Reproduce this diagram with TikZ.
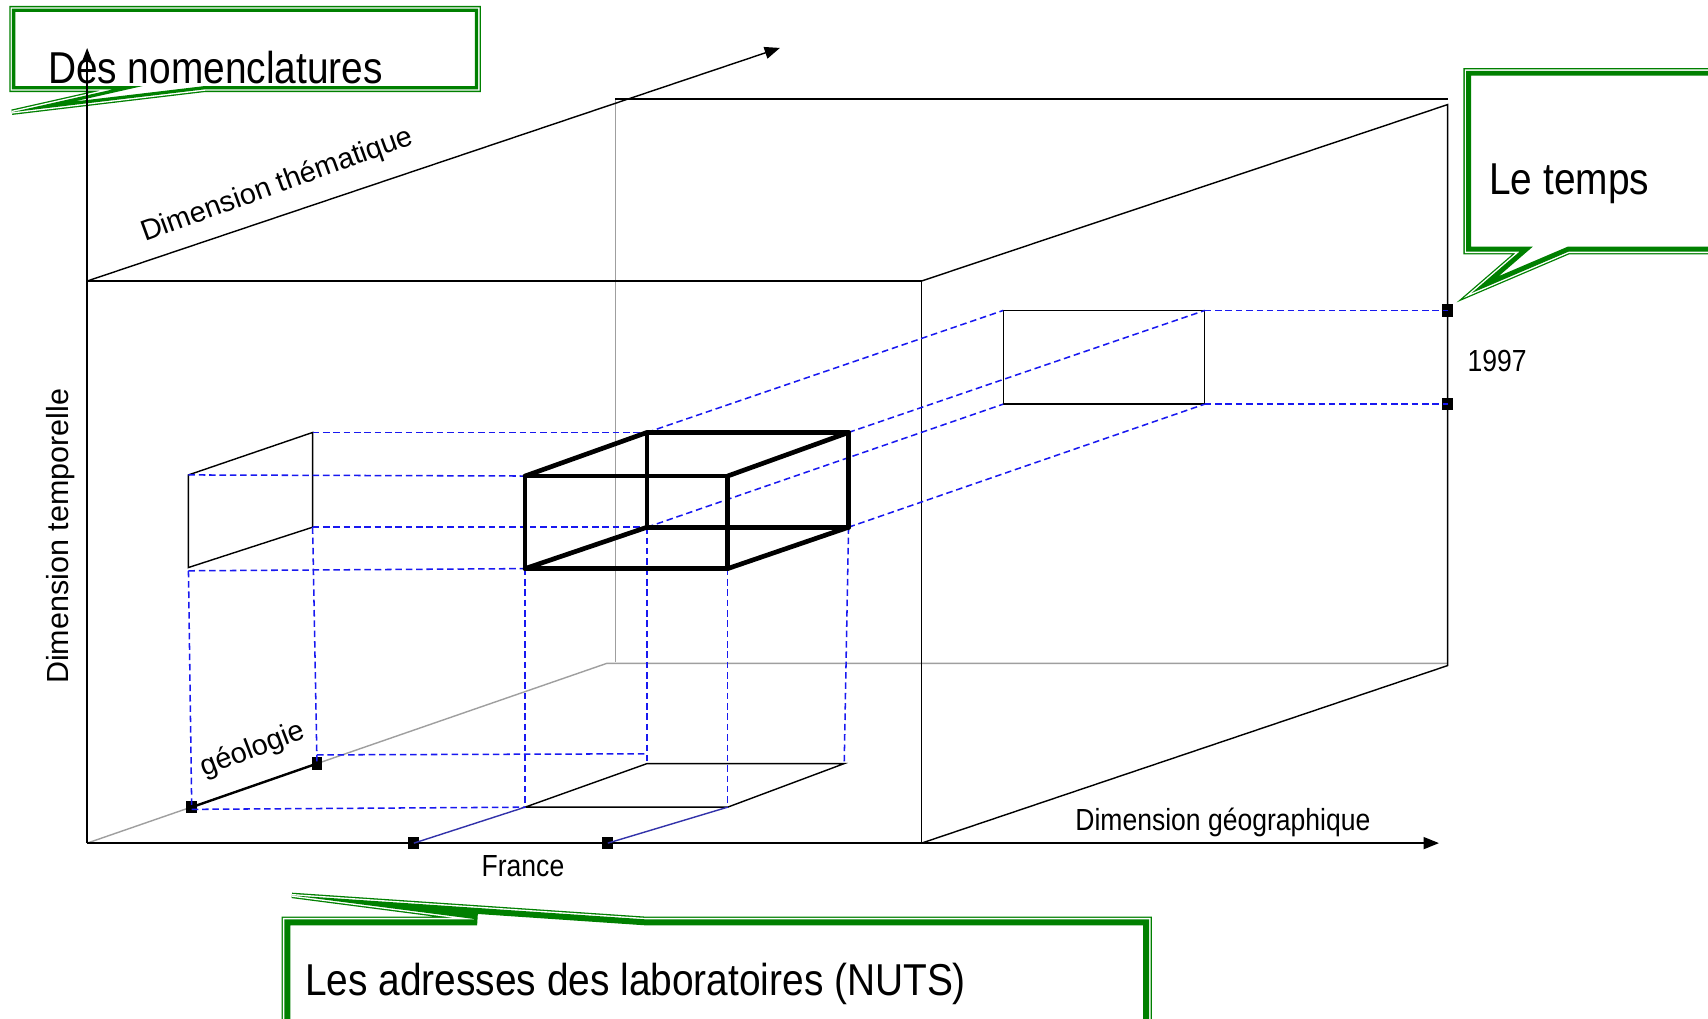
\documentclass[tikz,border=0pt]{standalone}
\usepackage{fontspec}
\setmainfont{Liberation Sans}
\newfontfamily\narrowsans[FakeStretch=0.87]{Liberation Sans}
\usetikzlibrary{arrows.meta}
\definecolor{calloutgreen}{RGB}{0,128,0}
\definecolor{projblue}{RGB}{25,25,240}
\definecolor{floorblue}{RGB}{50,50,170}
\tikzset{
	frame/.style={line width=1.3pt, black},
	backline/.style={line width=1.3pt, gray!75},
	proj/.style={projblue, line width=1.4pt, dash pattern=on 6pt off 3.5pt},
	cubeedge/.style={line width=4.3pt, line join=round, line cap=round},
	thinedge/.style={line width=1.3pt, black},
	marker/.style={fill=black, inner sep=0pt, minimum width=10pt, minimum height=11.5pt},
	bigtext/.style={font=\narrowsans\fontsize{41}{45}\selectfont, inner sep=0pt},
	axistext/.style={font=\narrowsans\fontsize{28}{32}\selectfont, inner sep=0pt},
	slanttext/.style={font=\fontsize{26.5}{30}\selectfont, inner sep=0pt},
	axisarrow/.style={-{Triangle[length=14pt,width=11pt]}, line width=1.3pt},
}
% callout: path, width of the inner green band
\newcommand{\callout}[2]{%
	\draw[calloutgreen, line width=5pt] #1;
	\draw[white, fill=white, line width=2.6pt] #1;
	\begin{scope}\clip #1; \draw[calloutgreen, line width=#2] #1; \end{scope}}
\begin{document}
\begin{tikzpicture}[x=1pt, y=-1pt]
	\useasboundingbox (0,0) rectangle (1568,935);

	% callouts
	\callout{(11,8) -- (439,8) -- (439,82) -- (188,82) -- (11,103) -- (104,82) -- (11,82) -- cycle}{6pt}
	\callout{(1346,65) -- (1585,65) -- (1585,231) -- (1440,231) -- (1351,269) -- (1395,231) -- (1346,231) -- cycle}{9pt}
	\callout{(261,844) -- (438,844) -- (268,822) -- (593,844) -- (1055,844) -- (1055,955) -- (261,955) -- cycle}{11pt}
	\node[bigtext, anchor=base west](nomText) at (44,77){Des nomenclatures};
	\node[bigtext, anchor=base west](tempsText) at (1367,179){Le temps};
	\node[bigtext, anchor=base west](nutsText) at (280,914){Les adresses des laboratoires (NUTS)};

	% main box
	\coordinate (origin) at (80,774);
	\coordinate (frontTL) at (80,258);
	\coordinate (frontTR) at (846,258);
	\coordinate (frontBR) at (846,774);
	\coordinate (yTip) at (80,44);
	\coordinate (xTip) at (1321,774);
	\coordinate (zTip) at (716,44);
	\coordinate (backTL) at (565,91);
	\coordinate (backTopR) at (1329,91);
	\coordinate (backTR) at (1329,96);
	\coordinate (backBR) at (1329,611);
	\coordinate (backVB) at (565,608);
	\coordinate (backBL) at (557,609);
	\coordinate (backBottomR) at (1329,609);

	\draw[backline] (backTL) -- (backVB);
	\draw[backline] (origin) -- (backBL) -- (backBottomR);
	\draw[frame] (backTL) -- (backTopR);
	\draw[frame] (frontTL) -- (frontTR) -- (frontBR);
	\draw[frame] (frontTR) -- (backTR) -- (backBR) -- (frontBR);
	\draw[axisarrow, -{Triangle[length=11pt,width=8pt]}] (origin) -- (yTip);
	\draw[axisarrow] (origin) -- (xTip);
	\draw[axisarrow] (frontTL) -- (zTip);

	% left projection
	\coordinate (leftTF) at (173,436);
	\coordinate (leftBF) at (173,521);
	\coordinate (leftTB) at (287,397);
	\coordinate (leftBB) at (287,484);
	\draw[thinedge] (leftTF) -- (leftTB) -- (leftBB) -- (leftBF) -- cycle;

	% right projection
	\coordinate (rightTL) at (921,285);
	\coordinate (rightTR) at (1106,285);
	\coordinate (rightBR) at (1106,371);
	\coordinate (rightBL) at (921,371);
	\draw[thinedge] (rightTL) -- (rightTR) -- (rightBR) -- (rightBL) -- cycle;

	% floor projection
	\coordinate (floorFL) at (482,741);
	\coordinate (floorFR) at (668,741);
	\coordinate (floorBL) at (594,701);
	\coordinate (floorBR) at (775,701);
	\draw[thinedge] (floorFL) -- (floorFR) -- (floorBR) -- (floorBL) -- cycle;

	% markers
	\node[marker](geoA) at (176,741){};
	\node[marker](geoB) at (291,701){};
	\node[marker](franceA) at (380,774){};
	\node[marker](franceB) at (558,774){};
	\node[marker](yearA) at (1329,285){};
	\node[marker](yearB) at (1329,371){};
	\draw[line width=2.2pt] (geoA.center) -- (geoB.center);
	\draw[floorblue, line width=1.3pt] (franceA.center) -- (floorFL);
	\draw[floorblue, line width=1.3pt] (franceB.center) -- (floorFR);

	% cube
	\coordinate (cubeFTL) at (482,437);
	\coordinate (cubeFTR) at (668,437);
	\coordinate (cubeFBR) at (668,522);
	\coordinate (cubeFBL) at (482,522);
	\coordinate (cubeBTL) at (594,397);
	\coordinate (cubeBTR) at (779,397);
	\coordinate (cubeBBR) at (779,484);
	\coordinate (cubeBBL) at (594,484);

	% dashed projections
	\draw[proj] (leftTB) -- (cubeBTL);
	\draw[proj] (leftTF) -- (cubeFTL);
	\draw[proj] (leftBB) -- (cubeBBL);
	\draw[proj] (173,524) -- (cubeFBL);
	\draw[proj] (173,524) -- (geoA.center);
	\draw[proj] (leftBB) -- (geoB.center);
	\draw[proj] (cubeFBL) -- (floorFL);
	\draw[proj] (cubeBBL) -- (floorBL);
	\draw[proj] (cubeFBR) -- (floorFR);
	\draw[proj] (cubeBBR) -- (floorBR);
	\draw[proj] (176,743) -- (floorFL);
	\draw[proj] (291,693) -- (594,692);
	\draw[proj] (cubeBTL) -- (rightTL);
	\draw[proj] (cubeBTR) -- (rightTR);
	\draw[proj] (cubeBBL) -- (rightBL);
	\draw[proj] (cubeBBR) -- (rightBR);
	\draw[proj] (rightTR) -- (yearA.center);
	\draw[proj] (rightBR) -- (yearB.center);

	\draw[cubeedge] (cubeFTL) -- (cubeFTR) -- (cubeFBR) -- (cubeFBL) -- cycle;
	\draw[cubeedge] (cubeBTL) -- (cubeBTR) -- (cubeBBR) -- (cubeBBL) -- cycle;
	\draw[cubeedge] (cubeFTL) -- (cubeBTL);
	\draw[cubeedge] (cubeFTR) -- (cubeBTR);
	\draw[cubeedge] (cubeFBR) -- (cubeBBR);
	\draw[cubeedge] (cubeFBL) -- (cubeBBL);

	% labels
	\node[axistext, anchor=base west](geoText) at (987,762){Dimension géographique};
	\node[axistext, anchor=base west](franceText) at (442,805){France};
	\node[axistext, anchor=base west](yearText) at (1347,341){1997};
	\node[slanttext, font=\fontsize{28}{32}\selectfont, rotate=90, anchor=base west](tempText) at (63,628){Dimension temporelle};
	\node[slanttext, rotate=20, anchor=base west](themText) at (133,222){Dimension thématique};
	\node[slanttext, rotate=21, anchor=base west](geolText) at (188,713){géologie};
\end{tikzpicture}
\end{document}
